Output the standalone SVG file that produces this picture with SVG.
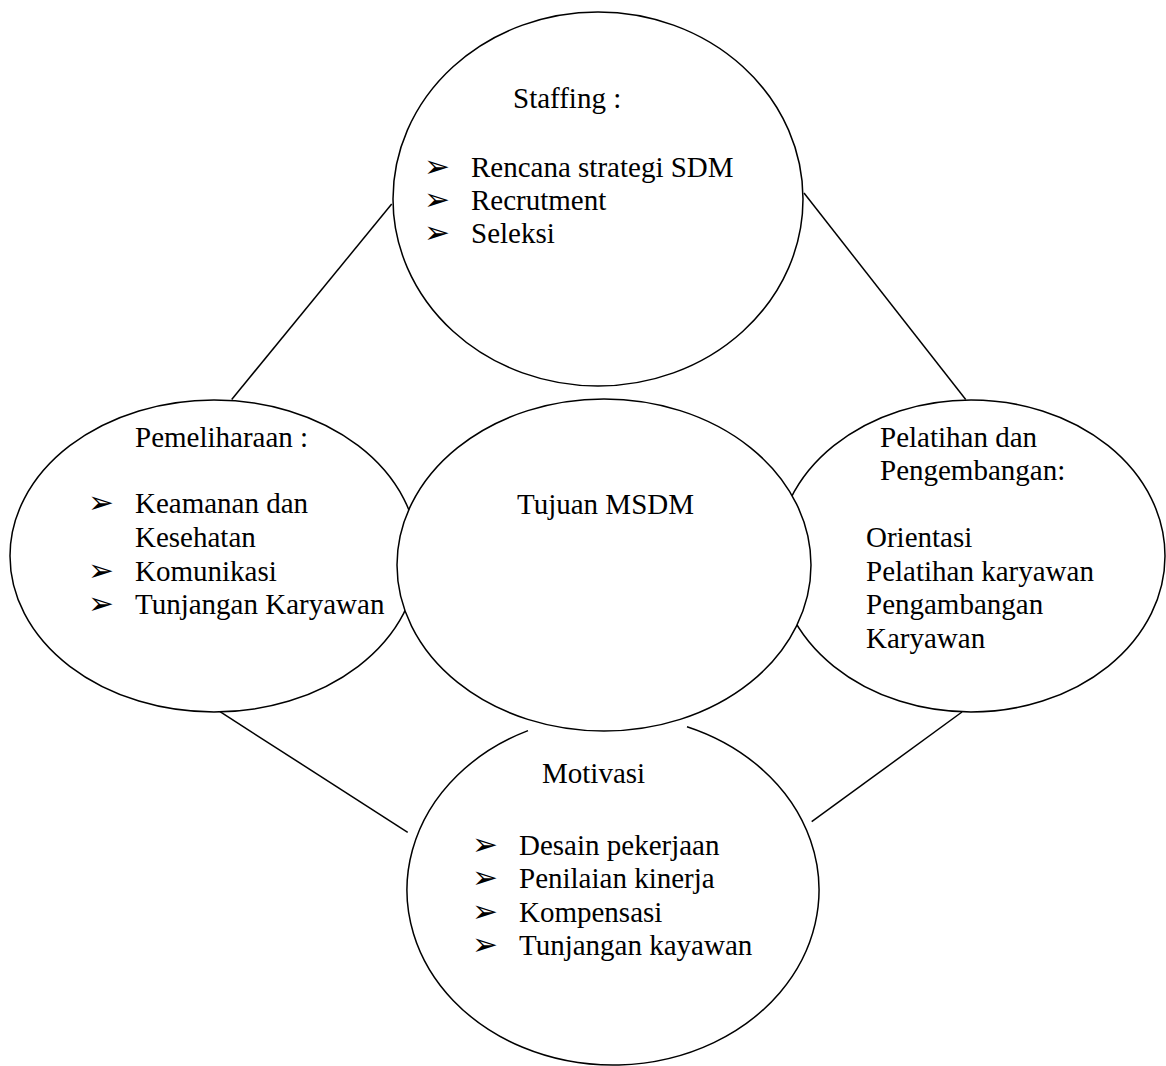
<svg xmlns="http://www.w3.org/2000/svg" width="1166" height="1066" viewBox="0 0 1166 1066">
<style>
.shape{fill:none;stroke:#000;stroke-width:1.5}
.center{fill:#fff;stroke:#000;stroke-width:1.5}
.conn{stroke:#000;stroke-width:1.5;fill:none}
text{font-family:"Liberation Serif","Times New Roman",serif;font-size:29px;fill:#000}
.b{font-family:"DejaVu Sans",sans-serif;font-size:31px}
</style>
<rect width="1166" height="1066" fill="#fff"/>
<g id="connectors">
<line class="conn" x1="391.7" y1="204" x2="231.7" y2="399.5"/>
<line class="conn" x1="804" y1="193" x2="965.7" y2="399.5"/>
<line class="conn" x1="220" y1="711.7" x2="407.7" y2="832.3"/>
<line class="conn" x1="962" y1="712" x2="811.7" y2="821.7"/>
</g>
<g id="pemeliharaan">
<ellipse class="shape" cx="214" cy="556" rx="204" ry="156"/>
<text x="135" y="447">Pemeliharaan :</text>
<text class="b" x="88" y="513">➢</text>
<text x="135" y="513">Keamanan dan</text>
<text x="135" y="547">Kesehatan</text>
<text class="b" x="88" y="580.5">➢</text>
<text x="135" y="580.5">Komunikasi</text>
<text class="b" x="88" y="614">➢</text>
<text x="135" y="614">Tunjangan Karyawan</text>
</g>
<g id="pelatihan">
<ellipse class="shape" cx="971" cy="556" rx="194" ry="156"/>
<text x="880" y="447">Pelatihan dan</text>
<text x="880" y="480">Pengembangan:</text>
<text x="866" y="547">Orientasi</text>
<text x="866" y="581">Pelatihan karyawan</text>
<text x="866" y="614">Pengambangan</text>
<text x="866" y="648">Karyawan</text>
</g>
<g id="staffing">
<ellipse class="shape" cx="598" cy="199" rx="205" ry="187"/>
<text x="513" y="108">Staffing :</text>
<text class="b" x="424" y="177">➢</text>
<text x="471" y="177">Rencana strategi SDM</text>
<text class="b" x="424" y="210">➢</text>
<text x="471" y="210">Recrutment</text>
<text class="b" x="424" y="243">➢</text>
<text x="471" y="243">Seleksi</text>
</g>
<g id="motivasi">
<path class="shape" d="M 687 726.7 A 206 175 0 1 1 528 730.6"/>
<text x="542" y="783">Motivasi</text>
<text class="b" x="472" y="854.5">➢</text>
<text x="519" y="854.5">Desain pekerjaan</text>
<text class="b" x="472" y="888">➢</text>
<text x="519" y="888">Penilaian kinerja</text>
<text class="b" x="472" y="921.5">➢</text>
<text x="519" y="921.5">Kompensasi</text>
<text class="b" x="472" y="955">➢</text>
<text x="519" y="955">Tunjangan kayawan</text>
</g>
<g id="tujuan">
<ellipse class="center" cx="604" cy="565" rx="207" ry="166"/>
<text x="517" y="514">Tujuan MSDM</text>
</g>
</svg>
